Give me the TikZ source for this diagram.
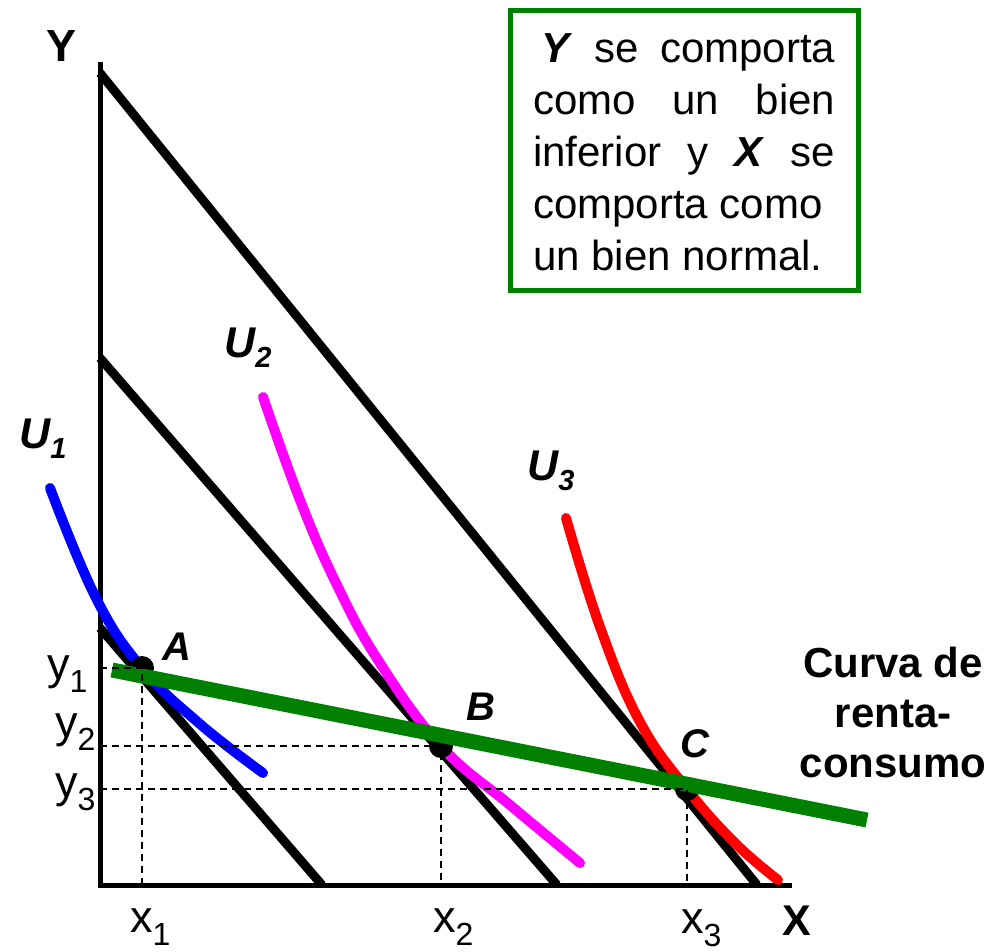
\documentclass[tikz,border=0pt]{standalone}
\usepackage{fontspec}
\setmainfont{Liberation Sans}
\definecolor{grn}{RGB}{0,128,0}
\definecolor{mag}{RGB}{255,0,255}
\definecolor{blu}{RGB}{0,0,255}
\definecolor{rd}{RGB}{255,0,0}
\newcommand\myfs[2]{\fontsize{#1}{#2}\selectfont}
\newcommand\lsub[1]{\raisebox{-13pt}{\myfs{32}{32}#1}}
\newcommand\usub[1]{\raisebox{-10pt}{\myfs{29}{29}\bfseries\itshape #1}}
\begin{document}
\begin{tikzpicture}[x=1pt,y=-1pt,
  axis/.style={line width=5pt},
  budget/.style={line width=9pt},
  icurve/.style={line width=10pt, line cap=round, line join=round},
  guide/.style={line width=1.6pt, dash pattern=on 7pt off 5pt},
  lbl/.style={inner sep=0pt, anchor=base west},
  dot/.style={fill=black},
  boxfont/.style={font={\myfs{42}{52}}},
  ufont/.style={font={\myfs{43}{50}\bfseries\itshape}},
  pfont/.style={font={\myfs{40}{50}\bfseries\itshape}},
  tickfont/.style={font={\myfs{45}{50}}}]
\useasboundingbox (0,0) rectangle (1003,952);

% axes
\coordinate (O) at (100,885);
\coordinate (ytop) at (100,62);
\coordinate (xend) at (792,885);
\draw[axis] (ytop) -- (100,887.5);
\draw[axis] (97.5,885) -- (xend);

% budget lines
\coordinate (b1a) at (100,628); \coordinate (b1b) at (322,885);
\coordinate (b2a) at (100,358); \coordinate (b2b) at (557,885);
\coordinate (b3a) at (100,73);  \coordinate (b3b) at (757,885);
\draw[budget] (b1a) -- (b1b);
\draw[budget] (b2a) -- (b2b);
\draw[budget] (b3a) -- (b3b);

% indifference curves
\draw[icurve, blu] plot[smooth, tension=0.7] coordinates {(50,488) (96,598) (142,668) (200,724) (263,773)};
\draw[icurve, mag] plot[smooth, tension=0.7] coordinates {(263,397) (300,500) (336,583) (378,660) (441,746) (510,805) (580,863)};
\draw[icurve, rd] plot[smooth, tension=0.7] coordinates {(566,518) (600,627) (640,722) (687,789) (735,843) (778,880)};

% equilibrium points
\coordinate (A) at (142,668);
\coordinate (B) at (441,746);
\coordinate (C) at (687,789);
\fill[dot] (A) circle (12pt);
\fill[dot] (B) circle (12pt);
\fill[dot] (C) circle (12pt);

% income-consumption curve
\coordinate (g1) at (112,670);
\coordinate (g2) at (867,820);
\draw[grn, line width=15pt] (g1) -- (g2);

% guides
\draw[guide] (100,668) -- (A) -- (A |- O);
\draw[guide] (100,746) -- (B) -- (B |- O);
\draw[guide] (100,789) -- (C) -- (C |- O);

% axis labels
\node[lbl, font={\myfs{45}{50}\bfseries}] (ylab) at (46,62) {Y};
\node[lbl, font={\myfs{43}{50}\bfseries}] (xlab) at (782,935) {X};

\node[lbl, tickfont] (y1) at (47,679) {y\lsub{1}};
\node[lbl, tickfont] (y2) at (55,737) {y\lsub{2}};
\node[lbl, tickfont] (y3) at (55,797) {y\lsub{3}};
\node[lbl, tickfont] (x1) at (130,932) {x\lsub{1}};
\node[lbl, tickfont] (x2) at (433,932) {x\lsub{2}};
\node[lbl, tickfont] (x3) at (681,933) {x\lsub{3}};

% curve labels
\node[lbl, ufont] (u1) at (19,448) {U\usub{1}};
\node[lbl, ufont] (u2) at (224,357) {U\usub{2}};
\node[lbl, ufont] (u3) at (527,480) {U\usub{3}};

% point labels
\node[lbl, pfont] (la) at (162,660) {A};
\node[lbl, pfont] (lb) at (466,720) {B};
\node[lbl, pfont] (lc) at (680,757) {C};

% curve name
\node[inner sep=0pt, anchor=base, font={\myfs{42}{50}\bfseries}] (cr1) at (893,677) {Curva de};
\node[inner sep=0pt, anchor=base, font={\myfs{42}{50}\bfseries}] (cr2) at (893,727) {renta-};
\node[inner sep=0pt, anchor=base, font={\myfs{42}{50}\bfseries}] (cr3) at (893,777) {consumo};

% text box
\node[draw=grn, line width=5pt, minimum width=348pt, minimum height=280pt, inner sep=0pt] (box) at (684.5,150.5) {};
\node[lbl, boxfont] (t1) at (541,63) {\makebox[294pt][s]{\textbf{\textit{Y}} se comporta}};
\node[lbl, boxfont] (t2) at (533,115) {\makebox[302pt][s]{como un bien}};
\node[lbl, boxfont] (t3) at (533,167) {\makebox[302pt][s]{inferior y \textbf{\textit{X}} se}};
\node[lbl, boxfont] (t4) at (533,218) {comporta como};
\node[lbl, boxfont] (t5) at (533,270) {un bien normal.};
\end{tikzpicture}
\end{document}
